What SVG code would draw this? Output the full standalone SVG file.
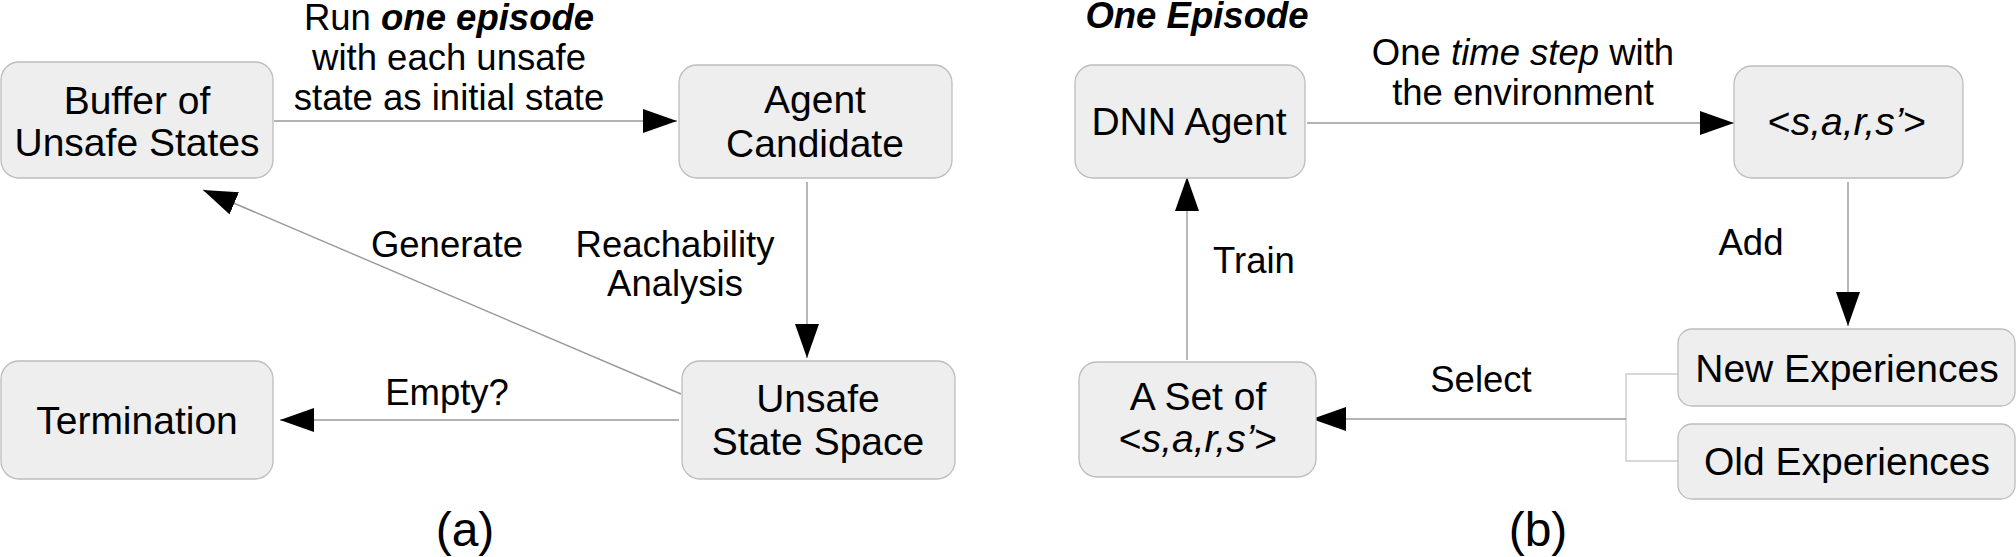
<svg xmlns="http://www.w3.org/2000/svg" width="2016" height="557" viewBox="0 0 2016 557">
<defs>
<style>
.box{fill:#eeeeee;stroke:#bdbdbd;stroke-width:1.3}
.nt{font-family:"Liberation Sans",Arial,sans-serif;font-size:39px;fill:#000;text-anchor:middle}
.lt{font-family:"Liberation Sans",Arial,sans-serif;font-size:36.5px;fill:#000;text-anchor:middle}
.cap{font-family:"Liberation Sans",Arial,sans-serif;font-size:48px;fill:#000;text-anchor:middle}
.edge{fill:none;stroke:#999999;stroke-width:1.4}
.edge2{fill:none;stroke:#cccccc;stroke-width:1.4}
.bi{font-weight:bold;font-style:italic}
.it{font-style:italic}
</style>
<marker id="ah" markerUnits="userSpaceOnUse" markerWidth="34" markerHeight="24" refX="34" refY="12" orient="auto">
<path d="M0,0 L34,12 L0,24 z" fill="#000"/>
</marker>
</defs>
<rect width="2016" height="557" fill="#fff"/>

<g id="connectors">
<line class="edge" x1="274" y1="121" x2="677" y2="121" marker-end="url(#ah)"/>
<line class="edge" x1="807" y1="182" x2="807" y2="358" marker-end="url(#ah)"/>
<line class="edge" x1="681" y1="394" x2="203" y2="190" marker-end="url(#ah)"/>
<line class="edge" x1="679" y1="420" x2="280" y2="420" marker-end="url(#ah)"/>
<line class="edge" x1="1307" y1="123" x2="1734" y2="123" marker-end="url(#ah)"/>
<line class="edge" x1="1848" y1="182" x2="1848" y2="326" marker-end="url(#ah)"/>
<line class="edge" x1="1187" y1="360" x2="1187" y2="177" marker-end="url(#ah)"/>
<path class="edge2" d="M1678,374 H1626 V461 H1678"/>
<line class="edge" x1="1626" y1="419" x2="1312" y2="419" marker-end="url(#ah)"/>
</g>

<g id="edge-labels">
<text class="lt" x="449" y="30">Run <tspan class="bi">one episode</tspan></text>
<text class="lt" x="449" y="70">with each unsafe</text>
<text class="lt" x="449" y="110">state as initial state</text>
<text class="lt" x="447" y="257">Generate</text>
<text class="lt" x="675" y="257">Reachability</text>
<text class="lt" x="675" y="296">Analysis</text>
<text class="lt" x="447" y="405">Empty?</text>
<text class="lt" x="1523" y="65">One <tspan class="it">time step</tspan> with</text>
<text class="lt" x="1523" y="105">the environment</text>
<text class="lt" x="1751" y="255">Add</text>
<text class="lt" x="1254" y="273">Train</text>
<text class="lt" x="1481" y="392">Select</text>
<text class="lt bi" x="1197" y="28">One Episode</text>
</g>

<g id="buffer">
<rect class="box" x="1" y="62" width="272" height="116" rx="18"/>
<text class="nt" x="137" y="114">Buffer of</text>
<text class="nt" x="137" y="156">Unsafe States</text>
</g>
<g id="agent-candidate">
<rect class="box" x="679" y="65" width="273" height="113" rx="18"/>
<text class="nt" x="815" y="113">Agent</text>
<text class="nt" x="815" y="157">Candidate</text>
</g>
<g id="unsafe-state-space">
<rect class="box" x="682" y="361" width="273" height="118" rx="18"/>
<text class="nt" x="818" y="412">Unsafe</text>
<text class="nt" x="818" y="455">State Space</text>
</g>
<g id="termination">
<rect class="box" x="1" y="361" width="272" height="118" rx="18"/>
<text class="nt" x="137" y="434">Termination</text>
</g>
<g id="dnn-agent">
<rect class="box" x="1075" y="65" width="230" height="113" rx="18"/>
<text class="nt" x="1189" y="135">DNN Agent</text>
</g>
<g id="sars">
<rect class="box" x="1734" y="66" width="229" height="112" rx="18"/>
<text class="nt" x="1847" y="135">&lt;<tspan class="it">s,a,r,s’</tspan>&gt;</text>
</g>
<g id="set-of-sars">
<rect class="box" x="1079" y="362" width="237" height="115" rx="18"/>
<text class="nt" x="1198" y="410">A Set of</text>
<text class="nt" x="1198" y="452">&lt;<tspan class="it">s,a,r,s’</tspan>&gt;</text>
</g>
<g id="new-experiences">
<rect class="box" x="1678" y="329" width="337" height="77" rx="14"/>
<text class="nt" x="1847" y="382">New Experiences</text>
</g>
<g id="old-experiences">
<rect class="box" x="1678" y="424" width="337" height="75" rx="14"/>
<text class="nt" x="1847" y="475">Old Experiences</text>
</g>

<g id="captions">
<text class="cap" x="465" y="546">(a)</text>
<text class="cap" x="1538" y="546">(b)</text>
</g>
</svg>
